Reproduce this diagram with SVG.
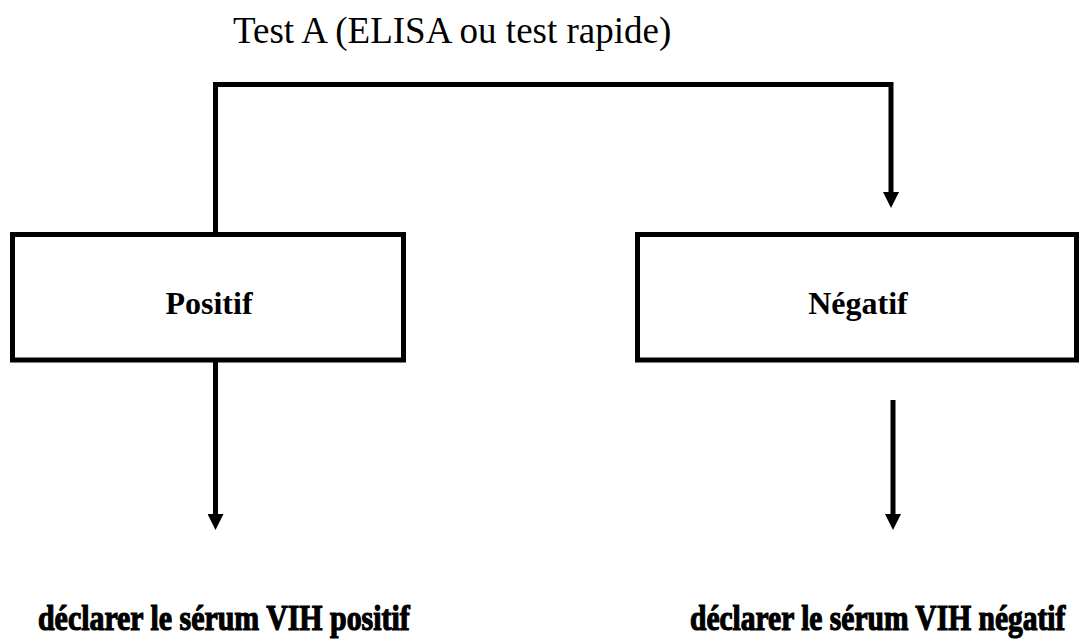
<svg xmlns="http://www.w3.org/2000/svg" width="1080" height="640" viewBox="0 0 1080 640">
  <style>
    .box { fill: #ffffff; stroke: #000000; stroke-width: 5; }
    .conn { fill: none; stroke: #000000; stroke-width: 5; stroke-linejoin: miter; }
    .title { font-family: "Liberation Serif", "Times New Roman", serif; font-size: 37px; fill: #000000; }
    .label { font-family: "Liberation Serif", "Times New Roman", serif; font-size: 32px; font-weight: bold; fill: #000000; text-anchor: middle; }
    .result { font-family: "Liberation Serif", "Times New Roman", serif; font-size: 36px; font-weight: bold; fill: #000000; stroke: #000000; stroke-width: 1.2; }
  </style>
  <defs>
    <marker id="arrow" markerUnits="userSpaceOnUse" markerWidth="16" markerHeight="16" refX="0" refY="8" orient="auto">
      <path d="M0,0 L16,8 L0,16 Z" fill="#000000"/>
    </marker>
  </defs>
  <rect width="1080" height="640" fill="#ffffff"/>

  <g id="title">
    <text class="title" x="233" y="43">Test A (ELISA ou test rapide)</text>
  </g>

  <g id="connectors">
    <path class="conn" d="M215.5,234 L215.5,84.5 L891,84.5 L891,192" marker-end="url(#arrow)"/>
    <path class="conn" d="M215.5,360 L215.5,514" marker-end="url(#arrow)"/>
    <path class="conn" d="M893,400 L893,514" marker-end="url(#arrow)"/>
  </g>

  <g id="positif">
    <rect class="box" x="12.5" y="234.5" width="391" height="125.5"/>
    <text class="label" x="209" y="314">Positif</text>
  </g>

  <g id="negatif">
    <rect class="box" x="637.5" y="234.5" width="439" height="125.5"/>
    <text class="label" x="858" y="314">Négatif</text>
  </g>

  <g id="result-positif" transform="translate(38,630) scale(0.83,1)">
    <text class="result" x="0" y="0">déclarer le sérum VIH positif</text>
  </g>

  <g id="result-negatif" transform="translate(690,630) scale(0.82,1)">
    <text class="result" x="0" y="0">déclarer le sérum VIH négatif</text>
  </g>
</svg>
